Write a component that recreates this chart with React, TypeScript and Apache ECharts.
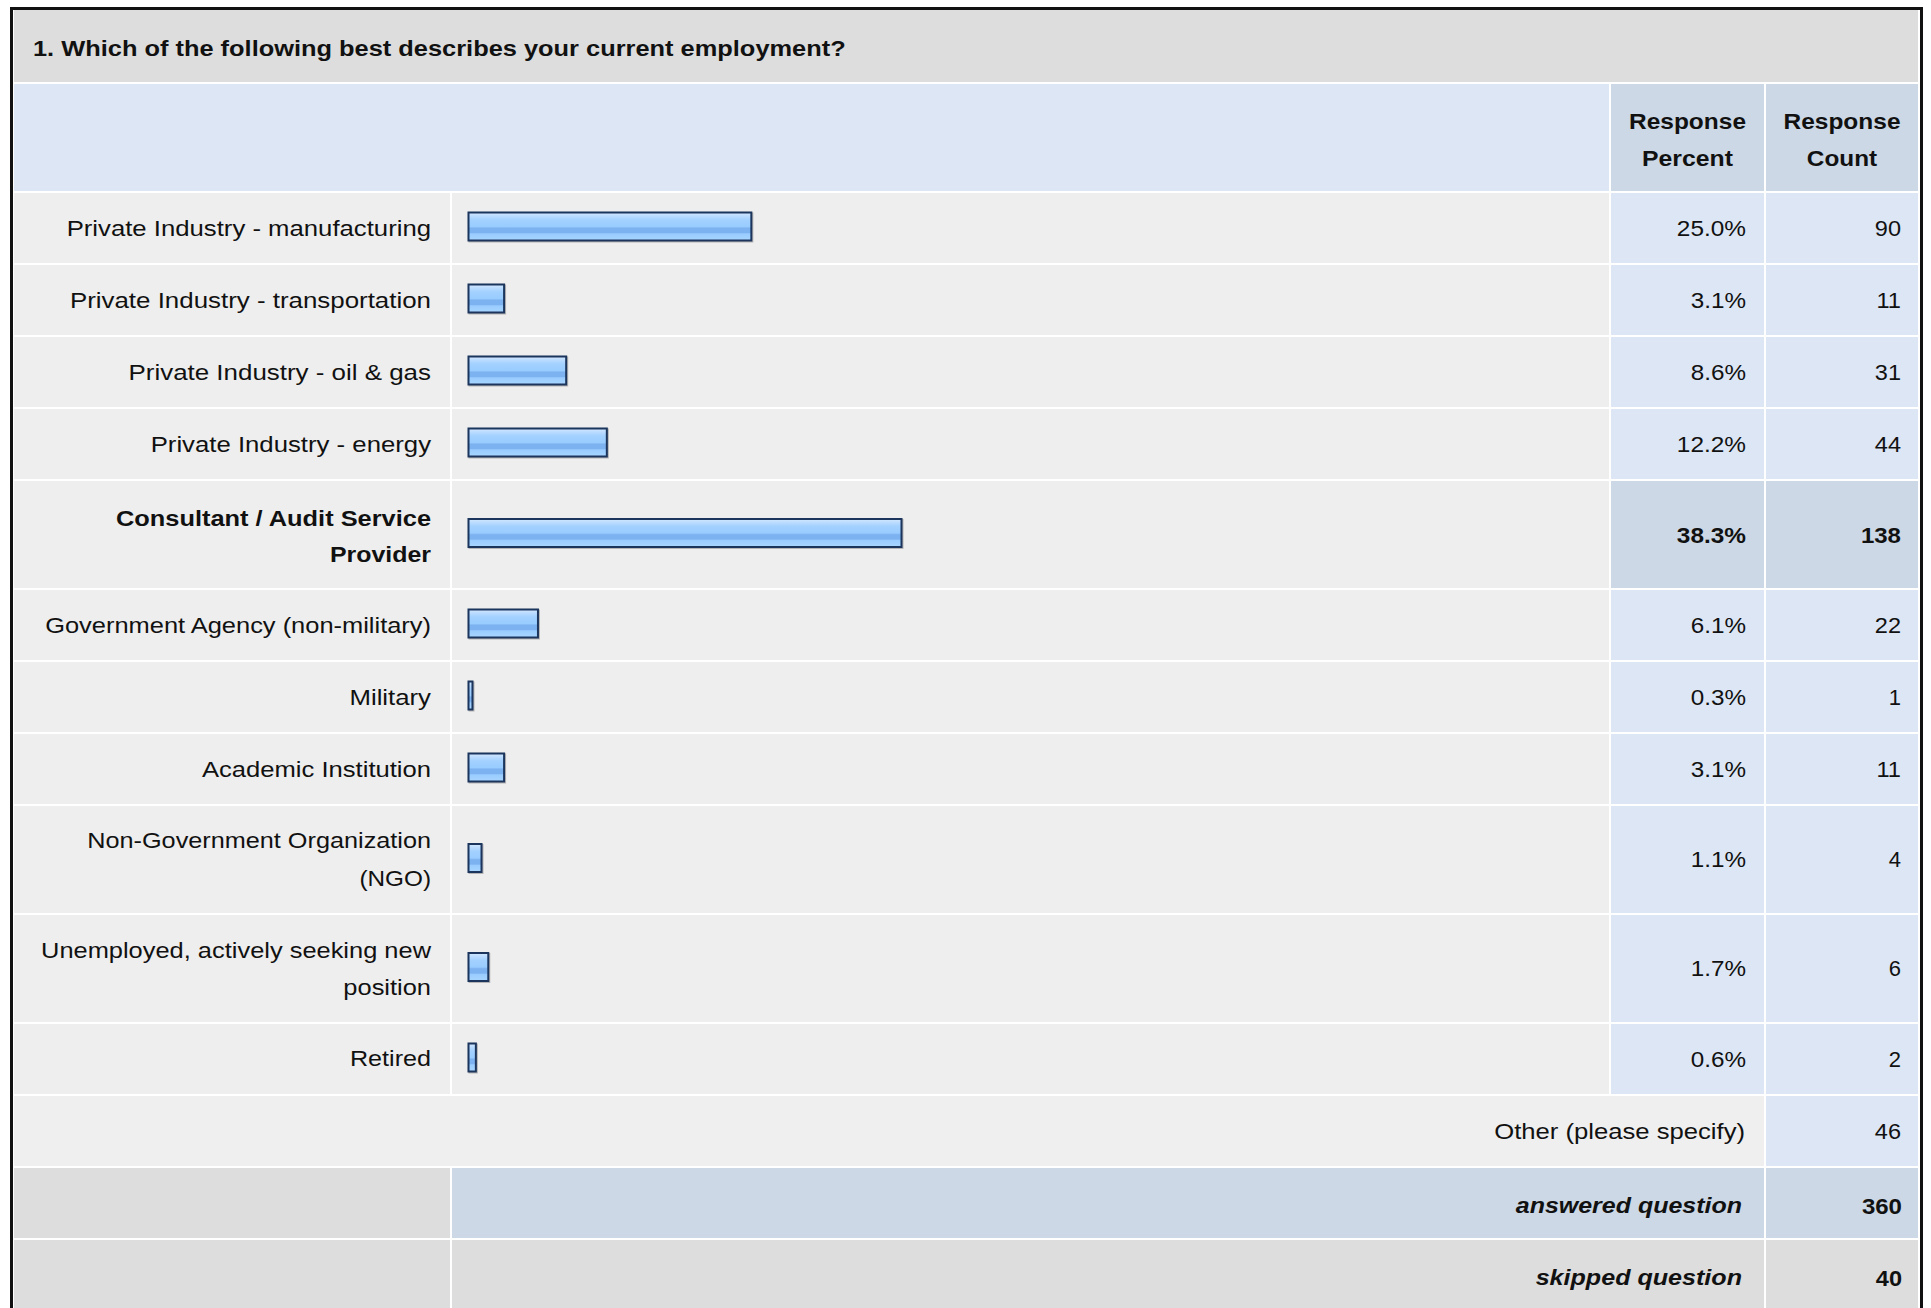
import React, { useEffect, useRef } from "react";
import * as echarts from "echarts";

// ---------- data ----------
const title = "1. Which of the following best describes your current employment?";
const headerPercent = ["Response", "Percent"];
const headerCount = ["Response", "Count"];
const categories = [
  "Private Industry - manufacturing",
  "Private Industry - transportation",
  "Private Industry - oil & gas",
  "Private Industry - energy",
  "Consultant / Audit Service\nProvider",
  "Government Agency (non-military)",
  "Military",
  "Academic Institution",
  "Non-Government Organization\n(NGO)",
  "Unemployed, actively seeking new\nposition",
  "Retired",
];
const percents = [25.0, 3.1, 8.6, 12.2, 38.3, 6.1, 0.3, 3.1, 1.1, 1.7, 0.6];
const counts = [90, 11, 31, 44, 138, 22, 1, 11, 4, 6, 2];
const otherLabel = "Other (please specify)";
const otherCount = 46;
const answeredLabel = "answered question";
const answeredCount = 360;
const skippedLabel = "skipped question";
const skippedCount = 40;

// ---------- layout ----------
const W = 1931;
const H = 1308;
const L0 = 14, L1 = 450, B0 = 452, B1 = 1609, P0 = 1611, P1 = 1764, C0 = 1766, C1 = 1918;
const TITLE_TOP = 10, TITLE_BOT = 82;
const HEAD_TOP = 84, HEAD_BOT = 191;
const ROW_START = 193, GAP = 2, SINGLE = 70, DOUBLE = 107;
const PX_PER_PCT = 11.29;
const AXIS_MIN = -0.23;
const AXIS_MAX = 100;
const BAR_LEFT = 467.5;

const FAMILY = '"Liberation Sans", Arial, Helvetica, sans-serif';
const LS = 1.7;

const C_TITLE = "#dddddd";
const C_HEAD = "#dce6f4";
const C_HEAD_DARK = "#ccd8e6";
const C_ROW = "#eeeeee";
const C_CELL = "#dce6f4";
const C_CELL_DARK = "#ccd8e6";
const C_GRAY = "#dddddd";
const C_TEXT = "#111111";

let measureCtx: CanvasRenderingContext2D | null = null;
function measure(str: string, weight: string, style: string) {
  if (!measureCtx) measureCtx = document.createElement("canvas").getContext("2d");
  if (!measureCtx) return 0;
  measureCtx.font = `${style} ${weight} 22px ${FAMILY}`;
  return measureCtx.measureText(str).width;
}

function txt(str: string, x: number, y: number, align: string, bold = false, italic = false) {
  const weight = bold ? "bold" : "normal";
  const style = italic ? "italic" : "normal";
  const w = measure(str, weight, style);
  const sx = w > 0 ? (w + LS * (str.length - 1)) / w : 1;
  return {
    type: "text",
    x,
    y,
    scaleX: sx,
    z: 10,
    silent: true,
    style: {
      text: str,
      x: 0,
      y: 0,
      fill: C_TEXT,
      fontSize: 22,
      fontFamily: FAMILY,
      fontWeight: weight,
      fontStyle: style,
      align,
      verticalAlign: "middle",
      textAlign: align,
      textVerticalAlign: "middle",
    },
  };
}

function rect(x0: number, y0: number, x1: number, y1: number, fill: string) {
  return {
    type: "rect",
    z: 0,
    silent: true,
    shape: { x: x0, y: y0, width: x1 - x0, height: y1 - y0 },
    style: { fill },
  };
}

function multiline(lines: string[], x: number, cy: number, align: string, bold = false) {
  const lh = 37;
  const start = cy - ((lines.length - 1) * lh) / 2;
  return lines.map((ln, i) => txt(ln, x, start + i * lh, align, bold));
}

function buildOption() {
  const graphic: any[] = [];
  // outer border
  graphic.push({
    type: "rect",
    z: 1,
    silent: true,
    shape: { x: 11.5, y: 8.5, width: 1910, height: 1320 },
    style: { fill: "none", stroke: "#111", lineWidth: 3 },
  });
  // title
  graphic.push(rect(L0, TITLE_TOP, C1, TITLE_BOT, C_TITLE));
  graphic.push(txt(title, 33, (TITLE_TOP + TITLE_BOT) / 2 + 2, "left", true));
  // header
  graphic.push(rect(L0, HEAD_TOP, B1, HEAD_BOT, C_HEAD));
  graphic.push(rect(P0, HEAD_TOP, P1, HEAD_BOT, C_HEAD_DARK));
  graphic.push(rect(C0, HEAD_TOP, C1, HEAD_BOT, C_HEAD_DARK));
  const hcy = (HEAD_TOP + HEAD_BOT) / 2 + 2;
  graphic.push(...multiline(headerPercent, (P0 + P1) / 2, hcy, "center", true));
  graphic.push(...multiline(headerCount, (C0 + C1) / 2, hcy, "center", true));

  const maxIdx = percents.indexOf(Math.max(...percents));
  const grids: any[] = [];
  const xAxes: any[] = [];
  const yAxes: any[] = [];
  const series: any[] = [];

  const gradient = new echarts.graphic.LinearGradient(0, 0, 0, 1, [
    { offset: 0, color: "#d4e9ff" },
    { offset: 0.12, color: "#bcdcff" },
    { offset: 0.26, color: "#a3d1ff" },
    { offset: 0.5, color: "#99ccff" },
    { offset: 0.56, color: "#7db2f0" },
    { offset: 0.72, color: "#7db2f0" },
    { offset: 0.76, color: "#99ccff" },
    { offset: 1, color: "#a8d5ff" },
  ]);

  let y = ROW_START;
  categories.forEach((cat, i) => {
    const lines = cat.split("\n");
    const h = lines.length > 1 ? DOUBLE : SINGLE;
    const hi = i === maxIdx;
    const cy = y + h / 2;
    graphic.push(rect(L0, y, L1, y + h, C_ROW));
    graphic.push(rect(B0, y, B1, y + h, C_ROW));
    graphic.push(rect(P0, y, P1, y + h, hi ? C_CELL_DARK : C_CELL));
    graphic.push(rect(C0, y, C1, y + h, hi ? C_CELL_DARK : C_CELL));
    graphic.push(...multiline(lines, 431, cy + (hi ? 2 : 0), "right", hi));
    graphic.push(txt(percents[i].toFixed(1) + "%", 1746, cy + (hi ? 1 : 0), "right", hi));
    graphic.push(txt(String(counts[i]), 1901, cy + (hi ? 1 : 0), "right", hi));

    grids.push({ left: BAR_LEFT, top: y - 1.5, width: (AXIS_MAX - AXIS_MIN) * PX_PER_PCT, height: h });
    xAxes.push({ type: "value", gridIndex: i, min: AXIS_MIN, max: AXIS_MAX, startValue: AXIS_MIN, show: false });
    yAxes.push({ type: "category", gridIndex: i, data: [cat], show: false });
    series.push({
      type: "bar",
      xAxisIndex: i,
      yAxisIndex: i,
      data: [percents[i]],
      barWidth: 30,
      silent: true,
      itemStyle: {
        color: gradient,
        borderColor: "#1b355c",
        borderWidth: 2,
        shadowColor: "rgba(70,70,70,0.35)",
        shadowOffsetX: 1,
        shadowOffsetY: 1,
        shadowBlur: 1,
      },
    });
    y += h + GAP;
  });

  // other row
  graphic.push(rect(L0, y, P1, y + SINGLE, "#efefef"));
  graphic.push(rect(C0, y, C1, y + SINGLE, C_CELL));
  graphic.push(txt(otherLabel, 1745, y + SINGLE / 2, "right"));
  graphic.push(txt(String(otherCount), 1901, y + SINGLE / 2, "right"));
  y += SINGLE + GAP;
  // answered
  graphic.push(rect(L0, y, L1, y + SINGLE, C_GRAY));
  graphic.push(rect(B0, y, P1, y + SINGLE, C_CELL_DARK));
  graphic.push(rect(C0, y, C1, y + SINGLE, C_CELL_DARK));
  graphic.push(txt(answeredLabel, 1742, y + SINGLE / 2 + 3, "right", true, true));
  graphic.push(txt(String(answeredCount), 1902, y + SINGLE / 2 + 3, "right", true));
  y += SINGLE + GAP;
  // skipped
  graphic.push(rect(L0, y, L1, y + SINGLE, C_GRAY));
  graphic.push(rect(B0, y, P1, y + SINGLE, C_GRAY));
  graphic.push(rect(C0, y, C1, y + SINGLE, C_GRAY));
  graphic.push(txt(skippedLabel, 1742, y + SINGLE / 2 + 3, "right", true, true));
  graphic.push(txt(String(skippedCount), 1902, y + SINGLE / 2 + 3, "right", true));

  return {
    animation: false,
    backgroundColor: "#ffffff",
    grid: grids,
    xAxis: xAxes,
    yAxis: yAxes,
    series,
    graphic,
  };
}

export default function App() {
  const ref = useRef<HTMLDivElement>(null);
  useEffect(() => {
    if (!ref.current) return;
    const chart = echarts.init(ref.current, null, { renderer: "svg", width: W, height: H });
    chart.setOption(buildOption() as any);
    return () => chart.dispose();
  }, []);
  return (
    <div
      ref={ref}
      style={{ position: "absolute", left: 0, top: 0, width: W + "px", height: H + "px", background: "#fff" }}
    />
  );
}
